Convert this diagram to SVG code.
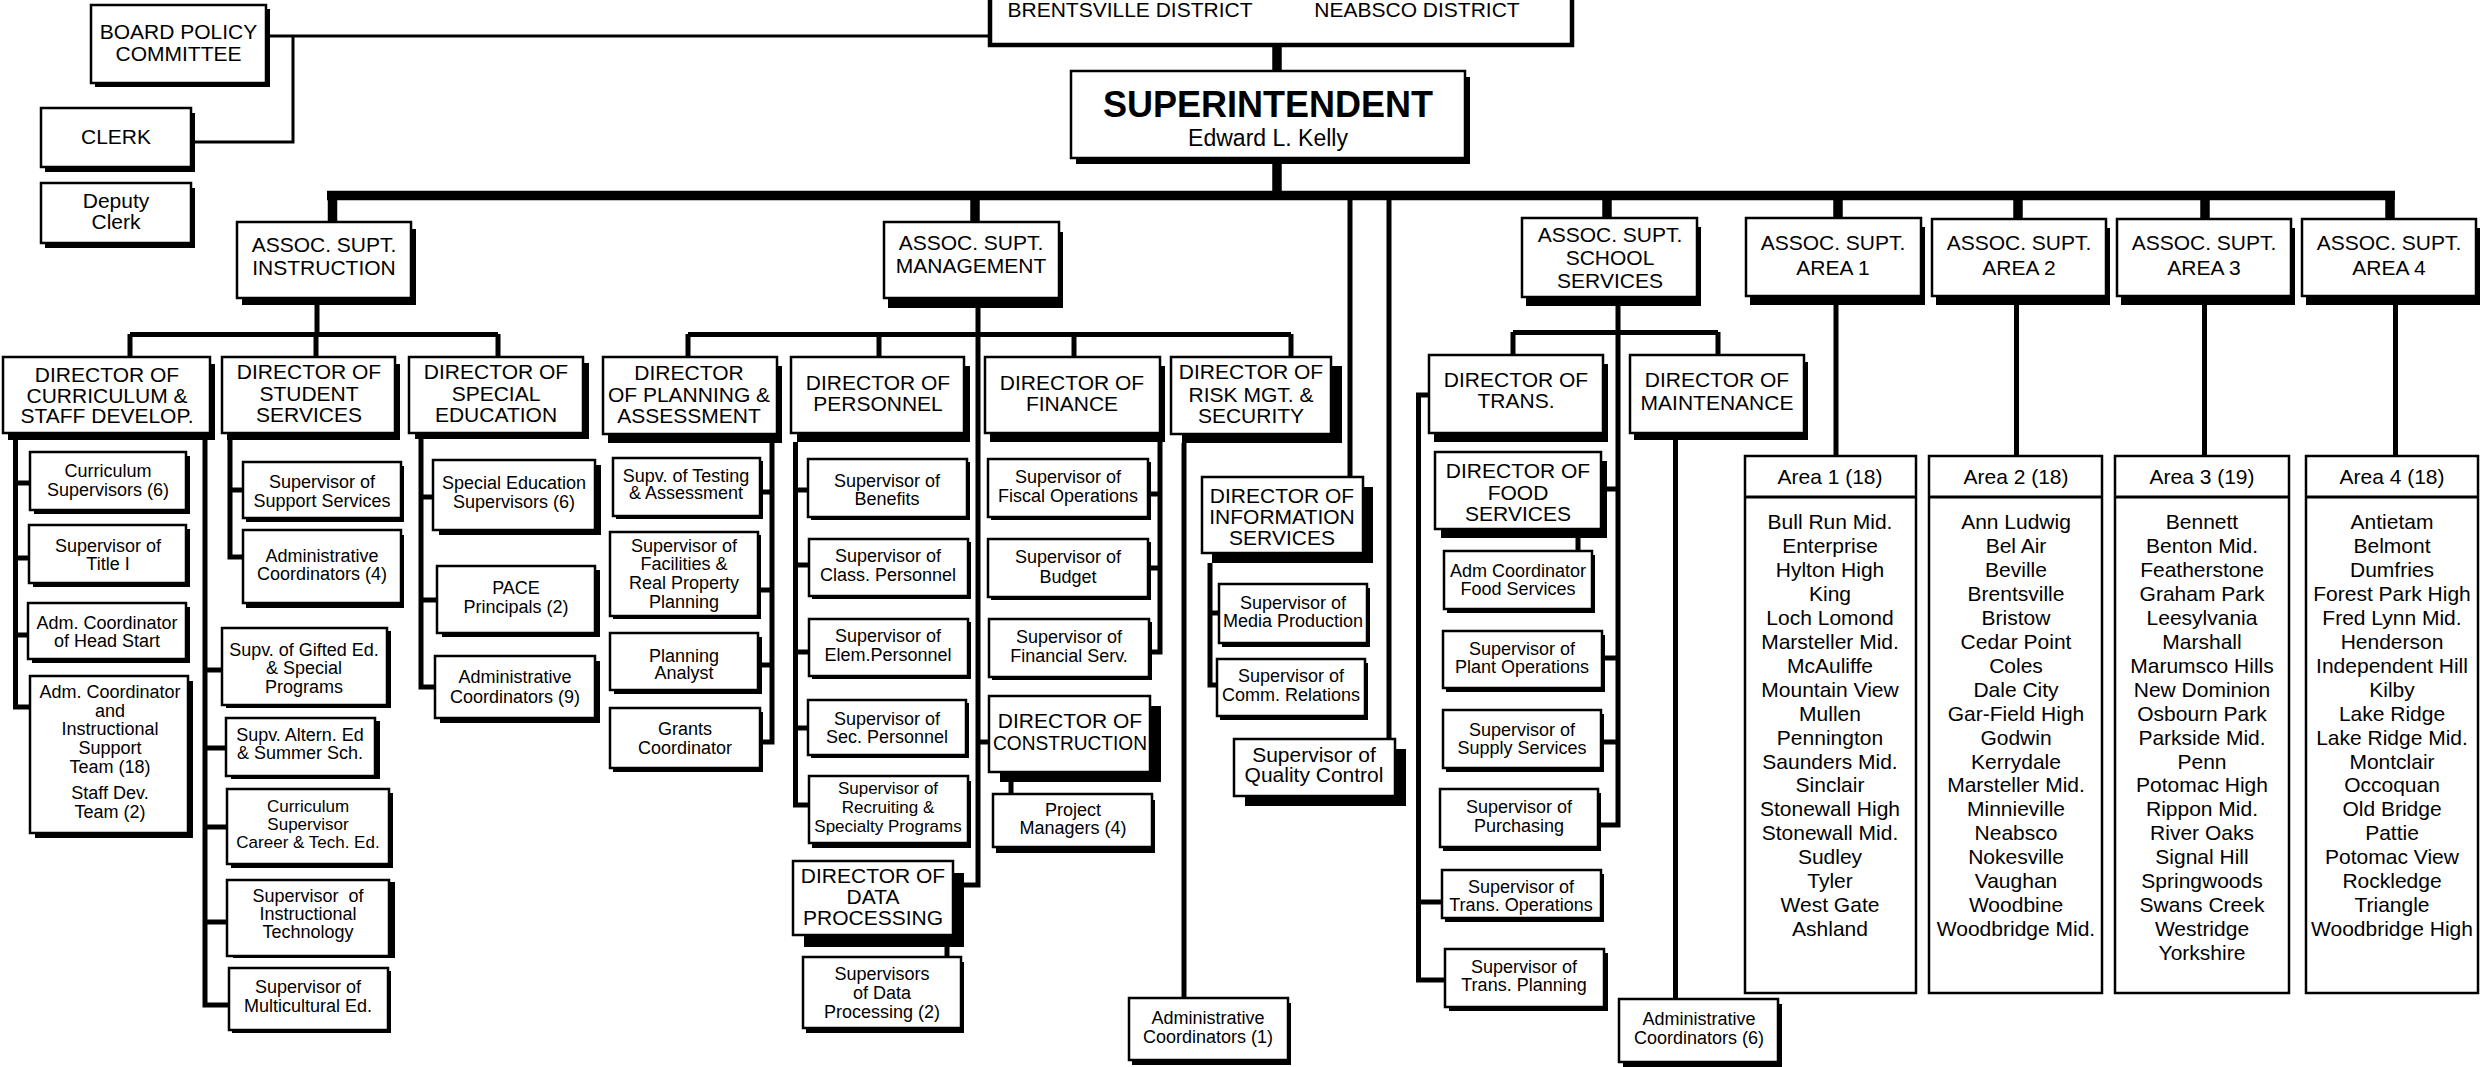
<svg xmlns="http://www.w3.org/2000/svg" width="2480" height="1067" viewBox="0 0 2480 1067">
<style>
text{font-family:"Liberation Sans",Arial,Helvetica,sans-serif;text-anchor:middle;fill:#000}
.h{font-size:21px}
.s{font-size:18px}
.sm{font-size:17px}
.big{font-size:36px;font-weight:bold}
.nm{font-size:23px}
.bx{fill:#fff;stroke:#000;stroke-width:2.5}
.sh{fill:#000}
.ab{fill:#fff;stroke:#000;stroke-width:2.5}
.c{fill:none;stroke:#000}
.k{stroke-width:9.5}
.m{stroke-width:5}
.t{stroke-width:3}
</style>
<rect x="0" y="0" width="2480" height="1067" fill="#fff"/>
<g id="connectors">
<path class="c t" d="M266 36H990M293 36V142H191"/>
<path class="c k" d="M1277 45V71M1277 164V196M327 195.5H2395M332.5 191V222M2390 191V219M975 200V222M1607 200V218M1838 200V218M2018 200V219M2205 200V219"/>
<path class="c m" d="M1350 200V477M1389 200V739"/>
<path class="c m" d="M317 305V334.5M130 334.5H498M130 334V357M316 334V357M498 334V357"/>
<path class="c m" d="M688 334.5H1291M688 334V357M879 334V357M1074 334V357M1291 334V357M978 308V885H964M978 742H989"/>
<path class="c m" d="M1618 306V825H1598M1513 332.5H1718M1513 332V355M1718 332V355M1607 489H1618M1605 658H1618M1601 742H1618"/>
<path class="c m" d="M1836 305V456M2016.5 305V456M2204.5 305V456M2395.5 305V456"/>
<path class="c m" d="M15.5 440V707H30M15.5 483H30M15.5 558H29M15.5 635H28"/>
<path class="c m" d="M205 440V1005H229M205 670H222M205 748H226M205 827H227M205 922H227"/>
<path class="c m" d="M230 440V557H243M230 490H243"/>
<path class="c m" d="M421 439V687H435M421 497H433M421 600H437"/>
<path class="c m" d="M772 443V742H760M772 492H760M772 590H758M772 665H758"/>
<path class="c m" d="M795.5 442V805H809M795.5 490H808M795.5 565H809M795.5 652H809M795.5 728H808"/>
<path class="c m" d="M1160 442V652H1149M1160 494H1148M1160 568H1148"/>
<path class="c m" d="M1184 443V998M1210 563V685H1217M1210 613H1219"/>
<path class="c m" d="M1429 395H1418.5V980H1445M1418.5 902H1442M1675.5 440V999"/>
<path class="c m" d="M1578 538V551M1011 782V794M947 947V957"/>
</g>

<g id="n-board"><rect class="sh" x="95" y="9" width="175" height="78"/><rect class="bx" x="91" y="5" width="175" height="78"/><text class="h"><tspan x="178.5" y="39">BOARD POLICY</tspan><tspan x="178.5" y="61">COMMITTEE</tspan></text></g>
<g id="n-clerk"><rect class="sh" x="45" y="113" width="150" height="59"/><rect class="bx" x="41" y="108" width="150" height="59"/><text class="h"><tspan x="116" y="144">CLERK</tspan></text></g>
<g id="n-deputy"><rect class="sh" x="45" y="188" width="150" height="60"/><rect class="bx" x="41" y="183" width="150" height="60"/><text class="h"><tspan x="116" y="208">Deputy</tspan><tspan x="116" y="229">Clerk</tspan></text></g>
<g id="n-districts"><rect fill="#fff" stroke="#000" stroke-width="4.5" x="990" y="-20" width="582" height="65"/><text class="h"><tspan x="1130" y="17">BRENTSVILLE DISTRICT</tspan><tspan x="1417" y="17">NEABSCO DISTRICT</tspan></text></g>
<g id="n-supt"><rect class="sh" x="1076" y="77" width="394" height="87"/><rect class="bx" x="1071" y="71" width="394" height="87"/><text><tspan class="big" x="1268" y="117">SUPERINTENDENT</tspan><tspan class="nm" x="1268" y="146">Edward L. Kelly</tspan></text></g>

<g id="n-instruction"><rect class="sh" x="242" y="229" width="174" height="76"/><rect class="bx" x="237" y="222" width="174" height="76"/><text class="h"><tspan x="324" y="252">ASSOC. SUPT.</tspan><tspan x="324" y="275">INSTRUCTION</tspan></text></g>
<g id="n-management"><rect class="sh" x="888" y="232" width="175" height="76"/><rect class="bx" x="884" y="222" width="175" height="76"/><text class="h"><tspan x="971" y="250">ASSOC. SUPT.</tspan><tspan x="971" y="273">MANAGEMENT</tspan></text></g>
<g id="n-school"><rect class="sh" x="1526" y="227" width="175" height="79"/><rect class="bx" x="1522" y="218" width="175" height="79"/><text class="h"><tspan x="1610" y="242">ASSOC. SUPT.</tspan><tspan x="1610" y="265">SCHOOL</tspan><tspan x="1610" y="288">SERVICES</tspan></text></g>
<g id="n-area1sup"><rect class="sh" x="1750" y="227" width="175" height="78"/><rect class="bx" x="1746" y="218" width="175" height="78"/><text class="h"><tspan x="1833" y="250">ASSOC. SUPT.</tspan><tspan x="1833" y="275">AREA 1</tspan></text></g>
<g id="n-area2sup"><rect class="sh" x="1936" y="228" width="174" height="77"/><rect class="bx" x="1932" y="219" width="174" height="77"/><text class="h"><tspan x="2019" y="250">ASSOC. SUPT.</tspan><tspan x="2019" y="275">AREA 2</tspan></text></g>
<g id="n-area3sup"><rect class="sh" x="2121" y="228" width="174" height="77"/><rect class="bx" x="2117" y="219" width="174" height="77"/><text class="h"><tspan x="2204" y="250">ASSOC. SUPT.</tspan><tspan x="2204" y="275">AREA 3</tspan></text></g>
<g id="n-area4sup"><rect class="sh" x="2306" y="228" width="174" height="77"/><rect class="bx" x="2302" y="219" width="174" height="77"/><text class="h"><tspan x="2389" y="250">ASSOC. SUPT.</tspan><tspan x="2389" y="275">AREA 4</tspan></text></g>

<g id="n-curriculum"><rect class="sh" x="8" y="364" width="207" height="76"/><rect class="bx" x="3" y="357" width="207" height="76"/><text class="h"><tspan x="107" y="382">DIRECTOR OF</tspan><tspan x="107" y="403">CURRICULUM &amp;</tspan><tspan x="107" y="423">STAFF DEVELOP.</tspan></text></g>
<g id="n-student"><rect class="sh" x="227" y="364" width="173" height="76"/><rect class="bx" x="222" y="357" width="173" height="76"/><text class="h"><tspan x="309" y="379">DIRECTOR OF</tspan><tspan x="309" y="401">STUDENT</tspan><tspan x="309" y="422">SERVICES</tspan></text></g>
<g id="n-special"><rect class="sh" x="415" y="363" width="174" height="76"/><rect class="bx" x="409" y="357" width="174" height="76"/><text class="h"><tspan x="496" y="379">DIRECTOR OF</tspan><tspan x="496" y="401">SPECIAL</tspan><tspan x="496" y="422">EDUCATION</tspan></text></g>
<g id="n-planning"><rect class="sh" x="608" y="366" width="174" height="77"/><rect class="bx" x="603" y="357" width="174" height="77"/><text class="h"><tspan x="689" y="380">DIRECTOR</tspan><tspan x="689" y="402">OF PLANNING &amp;</tspan><tspan x="689" y="423">ASSESSMENT</tspan></text></g>
<g id="n-personnel"><rect class="sh" x="797" y="366" width="173" height="76"/><rect class="bx" x="791" y="357" width="173" height="76"/><text class="h"><tspan x="878" y="390">DIRECTOR OF</tspan><tspan x="878" y="411">PERSONNEL</tspan></text></g>
<g id="n-finance"><rect class="sh" x="990" y="366" width="175" height="76"/><rect class="bx" x="985" y="357" width="175" height="76"/><text class="h"><tspan x="1072" y="390">DIRECTOR OF</tspan><tspan x="1072" y="411">FINANCE</tspan></text></g>
<g id="n-risk"><rect class="sh" x="1182" y="366" width="160" height="77"/><rect class="bx" x="1171" y="357" width="160" height="77"/><text class="h"><tspan x="1251" y="379">DIRECTOR OF</tspan><tspan x="1251" y="402">RISK MGT. &amp;</tspan><tspan x="1251" y="423">SECURITY</tspan></text></g>
<g id="n-trans"><rect class="sh" x="1434" y="364" width="174" height="78"/><rect class="bx" x="1429" y="355" width="174" height="78"/><text class="h"><tspan x="1516" y="387">DIRECTOR OF</tspan><tspan x="1516" y="408">TRANS.</tspan></text></g>
<g id="n-maintenance"><rect class="sh" x="1634" y="362" width="174" height="78"/><rect class="bx" x="1630" y="355" width="174" height="78"/><text class="h"><tspan x="1717" y="387">DIRECTOR OF</tspan><tspan x="1717" y="410">MAINTENANCE</tspan></text></g>

<g id="n-cursup"><rect class="sh" x="34" y="456" width="156" height="58"/><rect class="bx" x="30" y="452" width="156" height="58"/><text class="s"><tspan x="108" y="477">Curriculum</tspan><tspan x="108" y="496">Supervisors (6)</tspan></text></g>
<g id="n-title1"><rect class="sh" x="33" y="529" width="157" height="58"/><rect class="bx" x="29" y="525" width="157" height="58"/><text class="s"><tspan x="108" y="552">Supervisor of</tspan><tspan x="108" y="570">Title I</tspan></text></g>
<g id="n-headstart"><rect class="sh" x="32" y="607" width="158" height="56"/><rect class="bx" x="28" y="603" width="158" height="56"/><text class="s"><tspan x="107" y="629">Adm. Coordinator</tspan><tspan x="107" y="647">of Head Start</tspan></text></g>
<g id="n-ist"><rect class="sh" x="35" y="681" width="158" height="157"/><rect class="bx" x="30" y="676" width="158" height="157"/><text class="s"><tspan x="110" y="698">Adm. Coordinator</tspan><tspan x="110" y="717">and</tspan><tspan x="110" y="735">Instructional</tspan><tspan x="110" y="754">Support</tspan><tspan x="110" y="773">Team (18)</tspan><tspan x="110" y="799">Staff Dev.</tspan><tspan x="110" y="818">Team (2)</tspan></text></g>

<g id="n-support"><rect class="sh" x="246" y="466" width="158" height="56"/><rect class="bx" x="243" y="462" width="158" height="56"/><text class="s"><tspan x="322" y="488">Supervisor of</tspan><tspan x="322" y="507">Support Services</tspan></text></g>
<g id="n-admcoord4"><rect class="sh" x="246" y="535" width="158" height="73"/><rect class="bx" x="243" y="530" width="158" height="73"/><text class="s"><tspan x="322" y="562">Administrative</tspan><tspan x="322" y="580">Coordinators (4)</tspan></text></g>
<g id="n-gifted"><rect class="sh" x="226" y="631" width="165" height="77"/><rect class="bx" x="222" y="628" width="165" height="77"/><text class="s"><tspan x="304" y="656">Supv. of Gifted Ed.</tspan><tspan x="304" y="674">&amp; Special</tspan><tspan x="304" y="693">Programs</tspan></text></g>
<g id="n-altern"><rect class="sh" x="231" y="721" width="149" height="58"/><rect class="bx" x="226" y="718" width="149" height="58"/><text class="s"><tspan x="300" y="741">Supv. Altern. Ed</tspan><tspan x="300" y="759">&amp; Summer Sch.</tspan></text></g>
<g id="n-career"><rect class="sh" x="231" y="793" width="162" height="75"/><rect class="bx" x="227" y="789" width="162" height="75"/><text class="sm"><tspan x="308" y="812">Curriculum</tspan><tspan x="308" y="830">Supervisor</tspan><tspan x="308" y="848">Career &amp; Tech. Ed.</tspan></text></g>
<g id="n-insttech"><rect class="sh" x="233" y="882" width="162" height="76"/><rect class="bx" x="227" y="880" width="162" height="76"/><text class="s"><tspan x="308" y="902">Supervisor&#160; of</tspan><tspan x="308" y="920">Instructional</tspan><tspan x="308" y="938">Technology</tspan></text></g>
<g id="n-multicultural"><rect class="sh" x="232" y="971" width="159" height="62"/><rect class="bx" x="229" y="968" width="159" height="62"/><text class="s"><tspan x="308" y="993">Supervisor of</tspan><tspan x="308" y="1012">Multicultural Ed.</tspan></text></g>

<g id="n-spedsup"><rect class="sh" x="439" y="465" width="162" height="70"/><rect class="bx" x="433" y="460" width="162" height="70"/><text class="s"><tspan x="514" y="489">Special Education</tspan><tspan x="514" y="508">Supervisors (6)</tspan></text></g>
<g id="n-pace"><rect class="sh" x="442" y="570" width="158" height="67"/><rect class="bx" x="437" y="566" width="158" height="67"/><text class="s"><tspan x="516" y="594">PACE</tspan><tspan x="516" y="613">Principals (2)</tspan></text></g>
<g id="n-admcoord9"><rect class="sh" x="440" y="661" width="160" height="62"/><rect class="bx" x="435" y="656" width="160" height="62"/><text class="s"><tspan x="515" y="683">Administrative</tspan><tspan x="515" y="703">Coordinators (9)</tspan></text></g>

<g id="n-testing"><rect class="sh" x="616" y="461" width="147" height="58"/><rect class="bx" x="613" y="458" width="147" height="58"/><text class="s"><tspan x="686" y="482">Supv. of Testing</tspan><tspan x="686" y="499">&amp; Assessment</tspan></text></g>
<g id="n-facilities"><rect class="sh" x="613" y="535" width="148" height="84"/><rect class="bx" x="610" y="532" width="148" height="84"/><text class="s"><tspan x="684" y="552">Supervisor of</tspan><tspan x="684" y="570">Facilities &amp;</tspan><tspan x="684" y="589">Real Property</tspan><tspan x="684" y="608">Planning</tspan></text></g>
<g id="n-analyst"><rect class="sh" x="614" y="637" width="148" height="57"/><rect class="bx" x="610" y="633" width="148" height="57"/><text class="s"><tspan x="684" y="662">Planning</tspan><tspan x="684" y="679">Analyst</tspan></text></g>
<g id="n-grants"><rect class="sh" x="613" y="712" width="150" height="60"/><rect class="bx" x="610" y="708" width="150" height="60"/><text class="s"><tspan x="685" y="735">Grants</tspan><tspan x="685" y="754">Coordinator</tspan></text></g>

<g id="n-benefits"><rect class="sh" x="811" y="462" width="159" height="58"/><rect class="bx" x="808" y="459" width="159" height="58"/><text class="s"><tspan x="887" y="487">Supervisor of</tspan><tspan x="887" y="505">Benefits</tspan></text></g>
<g id="n-class"><rect class="sh" x="812" y="542" width="159" height="57"/><rect class="bx" x="809" y="539" width="159" height="57"/><text class="s"><tspan x="888" y="562">Supervisor of</tspan><tspan x="888" y="581">Class. Personnel</tspan></text></g>
<g id="n-elem"><rect class="sh" x="812" y="622" width="159" height="57"/><rect class="bx" x="809" y="619" width="159" height="57"/><text class="s"><tspan x="888" y="642">Supervisor of</tspan><tspan x="888" y="661">Elem.Personnel</tspan></text></g>
<g id="n-sec"><rect class="sh" x="811" y="703" width="158" height="55"/><rect class="bx" x="808" y="700" width="158" height="55"/><text class="s"><tspan x="887" y="725">Supervisor of</tspan><tspan x="887" y="743">Sec. Personnel</tspan></text></g>
<g id="n-recruit"><rect class="sh" x="812" y="781" width="159" height="67"/><rect class="bx" x="809" y="776" width="159" height="67"/><text class="sm"><tspan x="888" y="794">Supervisor of</tspan><tspan x="888" y="813">Recruiting &amp;</tspan><tspan x="888" y="832">Specialty Programs</tspan></text></g>
<g id="n-dataproc"><rect class="sh" x="804" y="873" width="160" height="74"/><rect class="bx" x="793" y="861" width="160" height="74"/><text class="h"><tspan x="873" y="883">DIRECTOR OF</tspan><tspan x="873" y="904">DATA</tspan><tspan x="873" y="925">PROCESSING</tspan></text></g>
<g id="n-dpsup"><rect class="sh" x="806" y="962" width="158" height="71"/><rect class="bx" x="803" y="957" width="158" height="71"/><text class="s"><tspan x="882" y="980">Supervisors</tspan><tspan x="882" y="999">of Data</tspan><tspan x="882" y="1018">Processing (2)</tspan></text></g>

<g id="n-fiscal"><rect class="sh" x="991" y="462" width="160" height="58"/><rect class="bx" x="988" y="459" width="160" height="58"/><text class="s"><tspan x="1068" y="483">Supervisor of</tspan><tspan x="1068" y="502">Fiscal Operations</tspan></text></g>
<g id="n-budget"><rect class="sh" x="991" y="542" width="160" height="58"/><rect class="bx" x="988" y="539" width="160" height="58"/><text class="s"><tspan x="1068" y="563">Supervisor of</tspan><tspan x="1068" y="583">Budget</tspan></text></g>
<g id="n-finserv"><rect class="sh" x="992" y="622" width="160" height="58"/><rect class="bx" x="989" y="619" width="160" height="58"/><text class="s"><tspan x="1069" y="643">Supervisor of</tspan><tspan x="1069" y="662">Financial Serv.</tspan></text></g>
<g id="n-construction"><rect class="sh" x="1000" y="706" width="161" height="76"/><rect class="bx" x="989" y="696" width="161" height="76"/><text class="h"><tspan x="1070" y="728">DIRECTOR OF</tspan><tspan x="1070" y="750" textLength="154" lengthAdjust="spacingAndGlyphs">CONSTRUCTION</tspan></text></g>
<g id="n-projmgr"><rect class="sh" x="996" y="800" width="159" height="53"/><rect class="bx" x="993" y="794" width="159" height="53"/><text class="s"><tspan x="1073" y="816">Project</tspan><tspan x="1073" y="834">Managers (4)</tspan></text></g>

<g id="n-infoserv"><rect class="sh" x="1212" y="487" width="161" height="76"/><rect class="bx" x="1202" y="477" width="161" height="76"/><text class="h"><tspan x="1282" y="503">DIRECTOR OF</tspan><tspan x="1282" y="524">INFORMATION</tspan><tspan x="1282" y="545">SERVICES</tspan></text></g>
<g id="n-media"><rect class="sh" x="1222" y="588" width="148" height="59"/><rect class="bx" x="1219" y="584" width="148" height="59"/><text class="s"><tspan x="1293" y="609">Supervisor of</tspan><tspan x="1293" y="627">Media Production</tspan></text></g>
<g id="n-comm"><rect class="sh" x="1220" y="663" width="148" height="57"/><rect class="bx" x="1217" y="659" width="148" height="57"/><text class="s"><tspan x="1291" y="682">Supervisor of</tspan><tspan x="1291" y="701">Comm. Relations</tspan></text></g>
<g id="n-quality"><rect class="sh" x="1245" y="749" width="161" height="57"/><rect class="bx" x="1234" y="739" width="161" height="57"/><text class="h"><tspan x="1314" y="762">Supervisor of</tspan><tspan x="1314" y="782">Quality Control</tspan></text></g>
<g id="n-admcoord1"><rect class="sh" x="1132" y="1003" width="159" height="62"/><rect class="bx" x="1129" y="998" width="159" height="62"/><text class="s"><tspan x="1208" y="1024">Administrative</tspan><tspan x="1208" y="1043">Coordinators (1)</tspan></text></g>

<g id="n-foodserv"><rect class="sh" x="1441" y="461" width="166" height="77"/><rect class="bx" x="1435" y="452" width="166" height="77"/><text class="h"><tspan x="1518" y="478">DIRECTOR OF</tspan><tspan x="1518" y="500">FOOD</tspan><tspan x="1518" y="521">SERVICES</tspan></text></g>
<g id="n-admfood"><rect class="sh" x="1447" y="555" width="148" height="58"/><rect class="bx" x="1444" y="551" width="148" height="58"/><text class="s"><tspan x="1518" y="577">Adm Coordinator</tspan><tspan x="1518" y="595">Food Services</tspan></text></g>
<g id="n-plant"><rect class="sh" x="1446" y="635" width="159" height="57"/><rect class="bx" x="1443" y="631" width="159" height="57"/><text class="s"><tspan x="1522" y="655">Supervisor of</tspan><tspan x="1522" y="673">Plant Operations</tspan></text></g>
<g id="n-supply"><rect class="sh" x="1446" y="714" width="158" height="58"/><rect class="bx" x="1443" y="710" width="158" height="58"/><text class="s"><tspan x="1522" y="736">Supervisor of</tspan><tspan x="1522" y="754">Supply Services</tspan></text></g>
<g id="n-purchasing"><rect class="sh" x="1443" y="793" width="158" height="58"/><rect class="bx" x="1440" y="789" width="158" height="58"/><text class="s"><tspan x="1519" y="813">Supervisor of</tspan><tspan x="1519" y="832">Purchasing</tspan></text></g>
<g id="n-transops"><rect class="sh" x="1445" y="874" width="159" height="48"/><rect class="bx" x="1442" y="870" width="159" height="48"/><text class="s"><tspan x="1521" y="893">Supervisor of</tspan><tspan x="1521" y="911">Trans. Operations</tspan></text></g>
<g id="n-transplan"><rect class="sh" x="1449" y="953" width="159" height="58"/><rect class="bx" x="1445" y="949" width="159" height="58"/><text class="s"><tspan x="1524" y="973">Supervisor of</tspan><tspan x="1524" y="991">Trans. Planning</tspan></text></g>
<g id="n-admcoord6"><rect class="sh" x="1623" y="1004" width="159" height="63"/><rect class="bx" x="1619" y="999" width="159" height="63"/><text class="s"><tspan x="1699" y="1025">Administrative</tspan><tspan x="1699" y="1044">Coordinators (6)</tspan></text></g>

<g id="n-area1"><rect class="ab" x="1745" y="456" width="171" height="537"/><path class="c t" d="M1745 497H1916"/><text class="h"><tspan x="1830" y="484">Area 1 (18)</tspan><tspan x="1830" y="529">Bull Run Mid.</tspan><tspan x="1830" y="553">Enterprise</tspan><tspan x="1830" y="577">Hylton High</tspan><tspan x="1830" y="601">King</tspan><tspan x="1830" y="625">Loch Lomond</tspan><tspan x="1830" y="649">Marsteller Mid.</tspan><tspan x="1830" y="673">McAuliffe</tspan><tspan x="1830" y="697">Mountain View</tspan><tspan x="1830" y="721">Mullen</tspan><tspan x="1830" y="745">Pennington</tspan><tspan x="1830" y="769">Saunders Mid.</tspan><tspan x="1830" y="792">Sinclair</tspan><tspan x="1830" y="816">Stonewall High</tspan><tspan x="1830" y="840">Stonewall Mid.</tspan><tspan x="1830" y="864">Sudley</tspan><tspan x="1830" y="888">Tyler</tspan><tspan x="1830" y="912">West Gate</tspan><tspan x="1830" y="936">Ashland</tspan></text></g>
<g id="n-area2"><rect class="ab" x="1929" y="456" width="173" height="537"/><path class="c t" d="M1929 497H2102"/><text class="h"><tspan x="2016" y="484">Area 2 (18)</tspan><tspan x="2016" y="529">Ann Ludwig</tspan><tspan x="2016" y="553">Bel Air</tspan><tspan x="2016" y="577">Beville</tspan><tspan x="2016" y="601">Brentsville</tspan><tspan x="2016" y="625">Bristow</tspan><tspan x="2016" y="649">Cedar Point</tspan><tspan x="2016" y="673">Coles</tspan><tspan x="2016" y="697">Dale City</tspan><tspan x="2016" y="721">Gar-Field High</tspan><tspan x="2016" y="745">Godwin</tspan><tspan x="2016" y="769">Kerrydale</tspan><tspan x="2016" y="792">Marsteller Mid.</tspan><tspan x="2016" y="816">Minnieville</tspan><tspan x="2016" y="840">Neabsco</tspan><tspan x="2016" y="864">Nokesville</tspan><tspan x="2016" y="888">Vaughan</tspan><tspan x="2016" y="912">Woodbine</tspan><tspan x="2016" y="936">Woodbridge Mid.</tspan></text></g>
<g id="n-area3"><rect class="ab" x="2115" y="456" width="174" height="537"/><path class="c t" d="M2115 497H2289"/><text class="h"><tspan x="2202" y="484">Area 3 (19)</tspan><tspan x="2202" y="529">Bennett</tspan><tspan x="2202" y="553">Benton Mid.</tspan><tspan x="2202" y="577">Featherstone</tspan><tspan x="2202" y="601">Graham Park</tspan><tspan x="2202" y="625">Leesylvania</tspan><tspan x="2202" y="649">Marshall</tspan><tspan x="2202" y="673">Marumsco Hills</tspan><tspan x="2202" y="697">New Dominion</tspan><tspan x="2202" y="721">Osbourn Park</tspan><tspan x="2202" y="745">Parkside Mid.</tspan><tspan x="2202" y="769">Penn</tspan><tspan x="2202" y="792">Potomac High</tspan><tspan x="2202" y="816">Rippon Mid.</tspan><tspan x="2202" y="840">River Oaks</tspan><tspan x="2202" y="864">Signal Hill</tspan><tspan x="2202" y="888">Springwoods</tspan><tspan x="2202" y="912">Swans Creek</tspan><tspan x="2202" y="936">Westridge</tspan><tspan x="2202" y="960">Yorkshire</tspan></text></g>
<g id="n-area4"><rect class="ab" x="2306" y="456" width="172" height="537"/><path class="c t" d="M2306 497H2478"/><text class="h"><tspan x="2392" y="484">Area 4 (18)</tspan><tspan x="2392" y="529">Antietam</tspan><tspan x="2392" y="553">Belmont</tspan><tspan x="2392" y="577">Dumfries</tspan><tspan x="2392" y="601">Forest Park High</tspan><tspan x="2392" y="625">Fred Lynn Mid.</tspan><tspan x="2392" y="649">Henderson</tspan><tspan x="2392" y="673">Independent Hill</tspan><tspan x="2392" y="697">Kilby</tspan><tspan x="2392" y="721">Lake Ridge</tspan><tspan x="2392" y="745">Lake Ridge Mid.</tspan><tspan x="2392" y="769">Montclair</tspan><tspan x="2392" y="792">Occoquan</tspan><tspan x="2392" y="816">Old Bridge</tspan><tspan x="2392" y="840">Pattie</tspan><tspan x="2392" y="864">Potomac View</tspan><tspan x="2392" y="888">Rockledge</tspan><tspan x="2392" y="912">Triangle</tspan><tspan x="2392" y="936">Woodbridge High</tspan></text></g>
</svg>
